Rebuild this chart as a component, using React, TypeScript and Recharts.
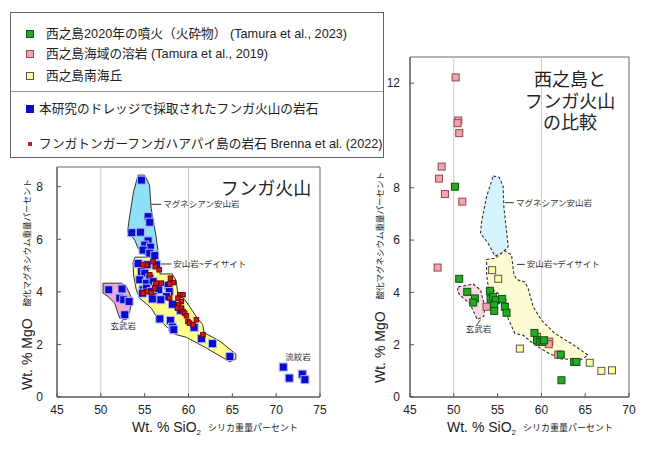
import React from 'react'
import {
  Curve,
  ReferenceArea,
  ReferenceDot,
  ReferenceLine,
  Scatter,
  ScatterChart,
  XAxis,
  YAxis,
} from 'recharts'

const FONT = '"Liberation Sans", Arial, "Noto Sans CJK JP", sans-serif'

type Pt = { x: number; y: number }
const pts = (rows: number[][]): Pt[] => rows.map(([x, y]) => ({ x, y }))

// ---- left panel: Hunga volcano ----
const hungaDredge = pts([
  [54.63, 8.25], [55.39, 6.86], [55.58, 6.65], [53.53, 6.25], [54.52, 6.27],
  [55.39, 5.94], [55.01, 5.78], [55.66, 5.7], [54.82, 5.59], [55.58, 5.47],
  [56.15, 5.38], [54.25, 5.08], [55.28, 5.03], [56.34, 5.03], [54.63, 4.77],
  [55.01, 4.71], [55.58, 4.52], [54.44, 4.46], [55.2, 4.33], [55.96, 4.39],
  [56.34, 4.2], [54.82, 4.08], [55.2, 4.14], [55.77, 4.01], [56.61, 4.08],
  [57.68, 4.24], [57.8, 4.01], [57.49, 3.82], [54.74, 3.95], [55.96, 3.82],
  [55.88, 3.73], [56.84, 3.7], [58.17, 3.53], [59.1, 3.3], [56.73, 2.97],
  [57.94, 2.91], [58.17, 2.66], [58.32, 2.56], [60.64, 2.65], [61.48, 2.22],
  [62.74, 2.03], [64.72, 1.54],
  [50.9, 4.08], [52.42, 4.11], [52.16, 3.76], [52.61, 3.7], [53.22, 3.63], [52.73, 3.13],
  [70.81, 1.14], [71.49, 0.72], [72.98, 0.87], [73.28, 0.66],
])

const brenna2022 = pts([
  [55.19, 5.02], [55.95, 5.15], [56.22, 4.96], [55.58, 4.65], [56.65, 4.84],
  [57.94, 4.52], [58.25, 4.35], [56.33, 4.33], [56.9, 4.33], [57.85, 4.3],
  [55.19, 4.01], [54.81, 3.95], [56.14, 4.14], [59.0, 3.89], [59.37, 3.89],
  [58.8, 3.76], [59.18, 3.63], [57.85, 3.76], [58.88, 3.51], [58.73, 3.38],
  [59.18, 3.38], [59.37, 3.25], [59.56, 3.19], [59.76, 3.09], [59.94, 2.87],
  [60.13, 2.81], [60.9, 2.94], [60.51, 2.75], [61.65, 2.37], [55.77, 3.97],
  [54.82, 5.03],
])

const hungaMgAndesiteField = pts([
  [54.25, 8.44], [55.0, 8.44], [55.55, 8.06], [55.74, 7.18], [56.3, 6.1],
  [56.5, 5.6], [55.95, 5.38], [54.9, 5.42], [54.25, 5.66], [53.87, 5.97],
  [53.05, 6.28], [53.2, 6.68], [53.72, 7.8],
])

const hungaAndesiteField = pts([
  [53.67, 5.12], [53.9, 5.32], [56.4, 5.32], [56.7, 5.05], [56.75, 4.68],
  [58.15, 4.68], [58.6, 4.42], [58.8, 3.85], [59.5, 3.74], [60.25, 3.38],
  [61.0, 3.0], [61.62, 2.76], [61.78, 2.45], [63.6, 2.12], [65.4, 1.63],
  [65.4, 1.44], [64.72, 1.34], [62.05, 1.86], [59.77, 2.27], [58.5, 2.38],
  [57.85, 2.56], [56.33, 3.06], [55.76, 3.38], [54.43, 3.76], [54.05, 4.07],
  [53.75, 4.6],
])

const hungaBasaltField = pts([
  [50.25, 4.33], [52.35, 4.33], [52.91, 4.2], [53.6, 3.7], [53.29, 3.25],
  [52.91, 2.94], [52.15, 3.0], [51.58, 3.57], [50.82, 3.82], [50.25, 3.95],
])

// ---- right panel: Nishinoshima vs Hunga ----
const nishi2020 = pts([
  [50.13, 8.04], [50.62, 4.52], [51.53, 4.02], [52.41, 3.77], [52.22, 3.61],
  [54.12, 4.06], [54.2, 3.75], [54.5, 3.83], [54.8, 3.7], [54.61, 3.51],
  [54.61, 3.29], [55.52, 3.75], [55.83, 3.45], [56.02, 3.22], [59.21, 2.45],
  [59.51, 2.17], [59.82, 2.11], [60.12, 2.11], [60.31, 2.17], [62.21, 1.62],
  [63.73, 1.34], [64.0, 1.34], [62.29, 0.64],
])

const nishiLava = pts([
  [50.21, 12.22], [50.51, 10.57], [50.43, 10.47], [50.62, 10.09], [48.61, 8.81],
  [48.31, 8.35], [48.99, 7.76], [50.97, 7.47], [48.15, 4.95], [53.74, 3.45],
  [59.5, 2.3], [60.9, 2.12], [60.84, 2.02], [61.91, 1.62],
])

const nishiSouthKnoll = pts([
  [54.38, 4.85], [55.07, 4.52], [57.54, 1.85], [65.52, 1.31], [66.85, 1.0], [68.06, 1.02],
])

const cmpMgAndesiteField = pts([
  [54.5, 8.45], [55.19, 8.4], [55.64, 8.04], [55.71, 7.28], [56.09, 6.13],
  [56.21, 5.74], [55.45, 5.49], [54.69, 5.39], [53.93, 5.87], [53.05, 6.26],
  [53.17, 6.7], [53.74, 7.66],
])

const cmpAndesiteField = pts([
  [53.74, 5.26], [54.69, 5.3], [55.83, 5.59], [56.59, 5.43], [56.85, 4.72],
  [57.16, 4.49], [58.11, 4.4], [58.49, 4.15], [59.06, 3.45], [60.0, 2.94],
  [61.53, 2.43], [63.43, 2.04], [65.33, 1.6], [64.38, 1.4], [62.1, 1.47],
  [60.58, 1.72], [59.06, 2.04], [57.92, 2.36], [56.97, 2.43], [56.13, 3.06],
  [56.02, 3.7], [55.07, 3.96], [53.93, 4.21], [53.74, 4.72],
])

const cmpBasaltField = pts([
  [50.51, 4.21], [52.22, 4.32], [53.05, 4.09], [53.55, 3.45], [53.44, 3.09],
  [52.67, 2.96], [51.84, 3.57], [50.7, 3.89], [50.4, 4.06],
])

// ---- axes and legend ----
const hungaXTicks = [45, 50, 55, 60, 65, 70, 75]
const hungaYTicks = [0, 2, 4, 6, 8]
const cmpXTicks = [45, 50, 55, 60, 65, 70]
const cmpYTicks = [0, 2, 4, 6, 8, 12]

const legendRows = [
  { label: '西之島2020年の噴火（火砕物） (Tamura et al., 2023)', fill: '#22aa22', stroke: '#145214', size: 8, top: 21, textLeft: 35 },
  { label: '西之島海域の溶岩 (Tamura et al., 2019)', fill: '#f4a4aa', stroke: '#8a4a50', size: 8, top: 41, textLeft: 35 },
  { label: '西之島南海丘', fill: '#ffffa0', stroke: '#555', size: 8, top: 63, textLeft: 35 },
  { label: '本研究のドレッジで採取されたフンガ火山の岩石', fill: '#0a0acc', stroke: '#0a0acc', size: 8, top: 96, textLeft: 28 },
  { label: 'フンガトンガーフンガハアパイ島の岩石 Brenna et al. (2022)', fill: '#c41e1e', stroke: '#c41e1e', size: 4, top: 131, textLeft: 28 },
]

const square = (size: number, fill: string, stroke: string) => (p: any) => {
  const { cx, cy } = p
  if (cx == null || cy == null) return <g />
  return <rect x={cx - size / 2} y={cy - size / 2} width={size} height={size} fill={fill} stroke={stroke} strokeWidth={1} />
}

const field = (fill: string, dashed: boolean) => (p: any) => (
  <Curve
    points={p.points}
    type="linearClosed"
    fill={fill}
    stroke="#333"
    strokeWidth={dashed ? 1.1 : 1}
    strokeLinejoin="round"
    strokeDasharray={dashed ? '3 2' : undefined}
  />
)

const none = () => <g />

const annot = { fontSize: 8.5, fill: '#333' }

const SiO2Label = ({ x, y }: { x: number; y: number }) => (
  <text x={x} y={y} fill="#222">
    <tspan fontSize={14}>Wt. % SiO</tspan>
    <tspan fontSize={8} dy={3}>2</tspan>
    <tspan fontSize={9} dx={7} dy={-4}>シリカ重量パーセント</tspan>
  </text>
)

const MgOLabel = ({ x, y, size }: { x: number; y: number; size: number }) => (
  <text x={x} y={y} transform={`rotate(-90, ${x}, ${y})`} fill="#222" dominantBaseline="central">
    <tspan fontSize={size}>Wt. % MgO</tspan>
    <tspan fontSize={8.5} dx={12}>酸化マグネシウム重量パーセント</tspan>
  </text>
)

const Legend = () => (
  <div
    style={{
      position: 'absolute', left: 10, top: 12, width: 372, height: 144,
      border: '1px solid #666', background: '#fff', color: '#222', fontSize: 12.7,
    }}
  >
    <div style={{ position: 'absolute', left: 0, right: 0, top: 78, borderTop: '1px solid #999' }} />
    {legendRows.map((r) => (
      <div key={r.label}>
        <div
          style={{
            position: 'absolute', left: 19 - r.size / 2, top: r.top - r.size / 2,
            width: r.size - 2, height: r.size - 2, background: r.fill, border: `1px solid ${r.stroke}`,
          }}
        />
        <div style={{ position: 'absolute', left: r.textLeft, top: r.top - 9, whiteSpace: 'nowrap', lineHeight: '18px' }}>
          {r.label}
        </div>
      </div>
    ))}
  </div>
)

const HungaPanel = () => (
  <ScatterChart width={340} height={290} margin={{ top: 7, right: 20, bottom: 23, left: 17 }}>
    <XAxis
      type="number" dataKey="x" domain={[45, 75]} ticks={hungaXTicks} height={30}
      stroke="#555" tickSize={-4} tickMargin={12} tick={{ fill: '#222', fontSize: 12 }}
      label={() => <SiO2Label x={132} y={272} />}
    />
    <YAxis
      type="number" dataKey="y" domain={[0, 8.75]} ticks={hungaYTicks} width={40}
      stroke="#555" tickSize={-4} tickMargin={18} tick={{ fill: '#222', fontSize: 12 }}
      label={() => <MgOLabel x={27} y={230} size={14} />}
    />
    <ReferenceArea x1={45} x2={75} y1={0} y2={8.75} fill="none" stroke="#666" />
    <ReferenceLine x={50} stroke="#c8c8c8" />
    <ReferenceLine x={60} stroke="#c8c8c8" />
    <Scatter data={hungaMgAndesiteField} shape={none} line={field('#8ee0f6', false)} lineType="joint" isAnimationActive={false} />
    <Scatter data={hungaAndesiteField} shape={none} line={field('#ffff8c', false)} lineType="joint" isAnimationActive={false} />
    <Scatter data={hungaBasaltField} shape={none} line={field('#f5a8cc', false)} lineType="joint" isAnimationActive={false} />
    <ReferenceLine segment={[{ x: 55.76, y: 7.33 }, { x: 56.9, y: 7.33 }]} stroke="#333"
      label={{ value: 'マグネシアン安山岩', position: 'right', offset: 2, ...annot }} />
    <ReferenceLine segment={[{ x: 56.79, y: 5.06 }, { x: 58.04, y: 5.06 }]} stroke="#333"
      label={{ value: '安山岩~デイサイト', position: 'right', offset: 2, ...annot }} />
    <ReferenceLine segment={[{ x: 52.34, y: 2.85 }, { x: 52.8, y: 3.02 }]} stroke="#333"
      label={{ value: '玄武岩', position: 'bottom', offset: 1, ...annot }} />
    <ReferenceDot x={72.5} y={1.54} r={0} fill="none" stroke="none"
      label={{ value: '流紋岩', position: 'center', ...annot }} />
    <Scatter data={hungaDredge} shape={square(8, '#0a0acc', '#a8b4ff')} isAnimationActive={false} />
    <Scatter data={brenna2022} shape={square(4.5, '#c41e1e', '#7a0000')} isAnimationActive={false} />
  </ScatterChart>
)

const ComparePanel = () => (
  <ScatterChart width={289} height={410} margin={{ top: 17, right: 20, bottom: 23, left: 20 }}>
    <XAxis
      type="number" dataKey="x" domain={[45, 70]} ticks={cmpXTicks} height={30}
      stroke="#555" tickSize={-4} tickMargin={12} tick={{ fill: '#222', fontSize: 12 }}
      label={() => <SiO2Label x={87} y={392} />}
    />
    <YAxis
      type="number" dataKey="y" domain={[0, 13]} ticks={cmpYTicks} width={30}
      stroke="#555" tickSize={-4} tickMargin={14} tick={{ fill: '#222', fontSize: 12 }}
      label={() => <MgOLabel x={20} y={343} size={14} />}
    />
    <ReferenceArea x1={45} x2={70} y1={0} y2={13} fill="none" stroke="#666" />
    <ReferenceLine x={50} stroke="#c8c8c8" />
    <ReferenceLine x={60} stroke="#c8c8c8" />
    <Scatter data={cmpMgAndesiteField} shape={none} line={field('#d4f3fb', true)} lineType="joint" isAnimationActive={false} />
    <Scatter data={cmpAndesiteField} shape={none} line={field('#fdfbd2', true)} lineType="joint" isAnimationActive={false} />
    <Scatter data={cmpBasaltField} shape={none} line={field('#fad8e2', true)} lineType="joint" isAnimationActive={false} />
    <ReferenceLine segment={[{ x: 55.83, y: 7.43 }, { x: 56.86, y: 7.43 }]} stroke="#333"
      label={{ value: 'マグネシアン安山岩', position: 'right', offset: 2, ...annot }} />
    <ReferenceLine segment={[{ x: 57.2, y: 5.07 }, { x: 58.1, y: 5.07 }]} stroke="#333"
      label={{ value: '安山岩~デイサイト', position: 'right', offset: 2, ...annot }} />
    <ReferenceLine segment={[{ x: 52.6, y: 2.74 }, { x: 53.06, y: 2.96 }]} stroke="#333"
      label={{ value: '玄武岩', position: 'bottom', offset: 1, ...annot }} />
    <Scatter data={nishiSouthKnoll} shape={square(7, '#ffffa0', '#555')} isAnimationActive={false} />
    <Scatter data={nishiLava} shape={square(7, '#f4a4aa', '#8a4a50')} isAnimationActive={false} />
    <Scatter data={nishi2020} shape={square(7, '#22aa22', '#145214')} isAnimationActive={false} />
  </ScatterChart>
)

export default function App() {
  return (
    <div style={{ position: 'absolute', left: 0, top: 0, width: 649, height: 452, background: '#fff', fontFamily: FONT }}>
      <div style={{ position: 'absolute', left: 0, top: 160 }}>
        <HungaPanel />
      </div>
      <div style={{ position: 'absolute', left: 360, top: 40 }}>
        <ComparePanel />
      </div>
      <Legend />
      <div style={{ position: 'absolute', left: 206, top: 174, width: 120, textAlign: 'center', fontSize: 18, color: '#222' }}>
        フンガ火山
      </div>
      <div style={{ position: 'absolute', left: 510, top: 70, width: 120, textAlign: 'center', fontSize: 18, lineHeight: '21.5px', color: '#222' }}>
        西之島と<br />フンガ火山<br />の比較
      </div>
    </div>
  )
}
